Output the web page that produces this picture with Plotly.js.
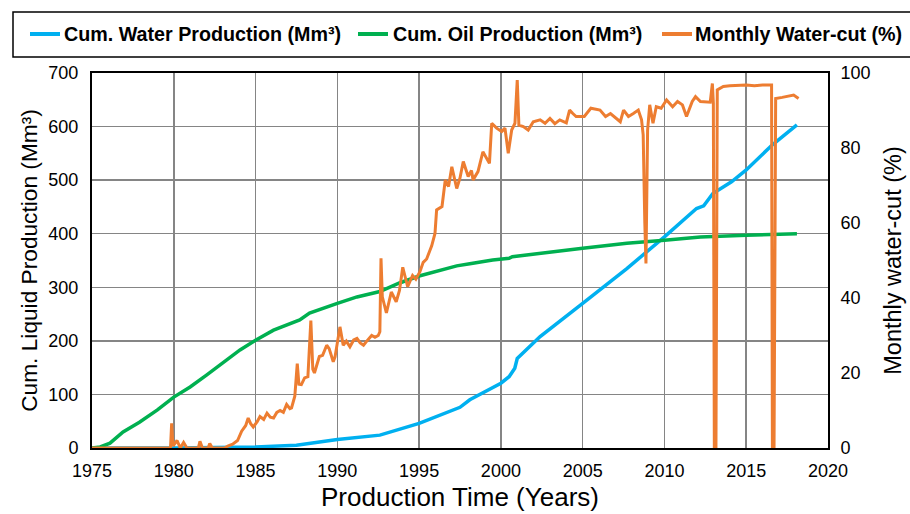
<!DOCTYPE html>
<html>
<head>
<meta charset="utf-8">
<script src="https://cdn.plot.ly/plotly-3.0.1.min.js"></script>
<style>
html,body{margin:0;padding:0;background:#fff;}
#chart{width:910px;height:514px;}
</style>
</head>
<body>
<div id="chart"></div>
<script>
// ---- Data ----
const waterYears = [1975, 1980, 1985, 1987.5, 1990, 1992.6, 1995, 1996.3, 1997.5, 1998.1, 2000, 2000.5, 2000.85, 2001.0, 2002.4, 2005, 2007.7, 2010, 2011.96, 2012.4, 2012.96, 2014.1, 2015, 2016.6, 2018.1];
const waterCum   = [0, 0, 2, 5, 16, 24, 46, 62, 76, 90, 121, 133, 149, 167, 208, 270, 335, 394, 447, 452, 475, 497, 519, 566, 603];

const oilYears = [1975, 1975.5, 1976.1, 1976.9, 1977.9, 1979.0, 1980, 1981, 1982, 1983, 1984.05, 1985, 1986.1, 1987.7, 1988.3, 1990, 1991.2, 1992.6, 1993.8, 1995, 1996.3, 1997.3, 1998.1, 1999.5, 2000.5, 2000.7, 2005, 2007.7, 2010, 2012.2, 2015, 2018.1];
const oilCum   = [0, 2, 9, 30, 48, 71, 95, 114, 136, 159, 183, 201, 220, 239, 252, 270, 282, 292, 308, 321, 332, 340, 344, 351, 354, 357, 373, 382, 388, 394, 397, 400];

const wcYears = [1975.0, 1979.8, 1979.87, 1979.95, 1980.2, 1980.4, 1980.6, 1980.8, 1981.5, 1981.6, 1981.75, 1982.1, 1982.2, 1982.35, 1983.1, 1983.3, 1983.6, 1983.9,
  1984.15, 1984.4, 1984.55, 1984.7, 1984.86, 1985.1, 1985.27, 1985.5, 1985.7, 1985.9, 1986.1, 1986.3, 1986.5, 1986.7, 1986.9, 1987.1, 1987.2, 1987.4, 1987.55, 1987.65, 1987.8,
  1988.0, 1988.2, 1988.38, 1988.5, 1988.6, 1988.9, 1989.1, 1989.35, 1989.5, 1989.75, 1989.86, 1990.16, 1990.36, 1990.55, 1990.77, 1991.0, 1991.2, 1991.4, 1991.6, 1991.8,
  1992.1, 1992.3, 1992.5, 1992.6, 1992.67, 1992.75, 1993.0, 1993.3, 1993.6, 1993.8, 1994.0, 1994.3, 1994.6, 1994.8, 1995.05, 1995.25, 1995.46, 1995.67, 1995.77, 1995.97,
  1996.07, 1996.4, 1996.6, 1996.8, 1997.0, 1997.3, 1997.5, 1997.7, 1998.0, 1998.2, 1998.3, 1998.6, 1998.9, 1999.3, 1999.44, 1999.74, 2000.05, 2000.25, 2000.45, 2000.66,
  2000.86, 2001.0, 2001.1, 2001.37, 2001.67, 2001.98, 2002.4, 2002.7, 2003.0, 2003.3, 2003.6, 2004.0, 2004.2, 2004.4, 2004.6, 2005.1, 2005.5, 2006.06, 2006.4, 2006.7,
  2007.0, 2007.3, 2007.5, 2007.8, 2008.1, 2008.4, 2008.6, 2008.7, 2008.8, 2008.87, 2008.97, 2009.1, 2009.3, 2009.5, 2009.8, 2010.13, 2010.5, 2010.8, 2011.1, 2011.35,
  2011.7, 2011.9, 2012.2, 2012.6, 2012.8, 2012.93, 2012.99, 2013.05, 2013.15, 2013.23, 2013.6, 2014.0, 2014.5, 2015.0, 2015.5, 2016.0, 2016.55, 2016.6, 2016.7, 2016.8,
  2017.2, 2017.5, 2017.9, 2018.2];
const wcPct = [0, 0, 6.6, 0.5, 2, 0, 1.5, 0, 0, 1.8, 0, 0, 1.2, 0, 0, 0.5, 1, 2,
  4.5, 6, 8, 6.5, 5.6, 7, 8.4, 7.6, 9.3, 8.2, 8, 9.5, 10, 9.5, 11.6, 10.5, 10.7, 13.8, 22.5, 17, 16.9,
  18.7, 19, 34, 21, 20, 24.4, 24.7, 27.4, 26.5, 23, 24.3, 32.3, 27.4, 28.5, 27, 28.8, 29.2, 28, 27.4, 28.5,
  30, 29.5, 30, 31, 50.6, 40.3, 36, 41.6, 39, 42, 48.2, 43, 46, 45, 47, 49.5, 50.4, 52.8, 53.9, 57.2,
  63.5, 64.4, 71.5, 69.7, 75, 69.2, 72, 76.4, 72.4, 74, 71.5, 73.7, 79, 75.9, 86.6, 85.3, 84.4, 85.3, 78.6, 84.8,
  86.6, 98.1, 86.1, 85.7, 84.8, 87, 87.5, 86.6, 87.9, 86.5, 87.5, 86.7, 90.1, 89.2, 88.4, 88.4, 90.6, 90.1, 88.4, 89.2,
  88, 87, 90.1, 88.4, 89.2, 90.1, 87.5, 83.5, 60, 49.2, 84.8, 91.5, 86.6, 91, 90.6, 92.8, 91, 92.4, 91.5, 88.4,
  92.4, 93.7, 92.4, 92.4, 92.2, 97.2, 92, 0, 0, 95.5, 96.4, 96.6, 96.8, 96.8, 96.6, 96.8, 96.8, 0, 0, 93.2,
  93.5, 93.7, 94.1, 93.2];

const seriesNames = ["Cum. Water Production (Mm³)", "Cum. Oil Production (Mm³)", "Monthly Water-cut (%)"];
const seriesColors = ["#00B0F0", "#00B050", "#ED7D31"];
const xTickVals = [1975, 1980, 1985, 1990, 1995, 2000, 2005, 2010, 2015, 2020];

const FONT = "Liberation Sans, Arial, sans-serif";

// plot-area geometry (pixels) used to place the hand-drawn legend
const W = 910, H = 514, ML = 92, MR = 82, MT = 73, MB = 66;
const PW = W - ML - MR, PH = H - MT - MB;
const px = v => (v - ML) / PW;           // pixel x -> paper x
const py = v => (H - MB - v) / PH;       // pixel y -> paper y

const traces = [
  {x: waterYears, y: waterCum, name: seriesNames[0], type: "scatter", mode: "lines",
   line: {color: seriesColors[0], width: 3.5}, yaxis: "y"},
  {x: oilYears, y: oilCum, name: seriesNames[1], type: "scatter", mode: "lines",
   line: {color: seriesColors[1], width: 3.5}, yaxis: "y"},
  {x: wcYears, y: wcPct, name: seriesNames[2], type: "scatter", mode: "lines",
   line: {color: seriesColors[2], width: 3}, yaxis: "y2"}
];

// legend layout (pixels)
const legSymX = [30, 358, 662];
const legTxtX = [62, 391, 693];
const legY = 34;
const shapes = [
  {type: "rect", xref: "paper", yref: "paper", x0: px(13), x1: px(925), y0: py(57), y1: py(12),
   line: {color: "#000", width: 1.5}, fillcolor: "rgba(0,0,0,0)", layer: "above"}
];
const annotations = [];
for (let i = 0; i < seriesNames.length; i++) {
  shapes.push({type: "line", xref: "paper", yref: "paper",
    x0: px(legSymX[i]), x1: px(legSymX[i] + 30), y0: py(legY), y1: py(legY),
    line: {color: seriesColors[i], width: 4}});
  annotations.push({xref: "paper", yref: "paper", x: px(legTxtX[i]), y: py(legY),
    xanchor: "left", yanchor: "middle", showarrow: false, text: seriesNames[i],
    font: {family: FONT, size: 19.7, weight: "bold", color: "#000"}});
}

const layout = {
  width: W, height: H,
  margin: {l: ML, r: MR, t: MT, b: MB},
  paper_bgcolor: "#fff", plot_bgcolor: "#fff",
  font: {family: FONT, color: "#000", size: 18},
  showlegend: false,
  shapes: shapes,
  annotations: annotations,
  xaxis: {
    range: [1975, 2020], tickvals: xTickVals, ticktext: xTickVals.map(String),
    showgrid: true, gridcolor: "#858585", gridwidth: 1.5,
    showline: true, linecolor: "#000", linewidth: 2, mirror: true,
    ticks: "outside", ticklen: 5, tickcolor: "rgba(0,0,0,0)",
    zeroline: false,
    tickfont: {family: FONT, size: 18, color: "#000"},
    title: {text: "Production Time (Years)", font: {family: FONT, size: 26, color: "#000"}, standoff: 8}
  },
  yaxis: {
    range: [0, 700], dtick: 100,
    showgrid: true, gridcolor: "#858585", gridwidth: 1.5,
    showline: true, linecolor: "#000", linewidth: 2, mirror: true,
    ticks: "outside", ticklen: 8, tickcolor: "rgba(0,0,0,0)",
    zeroline: false,
    tickfont: {family: FONT, size: 18, color: "#000"},
    title: {text: "Cum. Liquid Production (Mm³)", font: {family: FONT, size: 22.7, color: "#000"}, standoff: 4}
  },
  yaxis2: {
    range: [0, 100], dtick: 20, overlaying: "y", side: "right",
    showgrid: false, zeroline: false,
    showline: false,
    ticks: "outside", ticklen: 8, tickcolor: "rgba(0,0,0,0)",
    tickfont: {family: FONT, size: 18, color: "#000"},
    title: {text: "Monthly water-cut (%)", font: {family: FONT, size: 23.5, color: "#000"}, standoff: 14}
  }
};

Plotly.newPlot("chart", traces, layout, {displayModeBar: false, staticPlot: true});
</script>
</body>
</html>
